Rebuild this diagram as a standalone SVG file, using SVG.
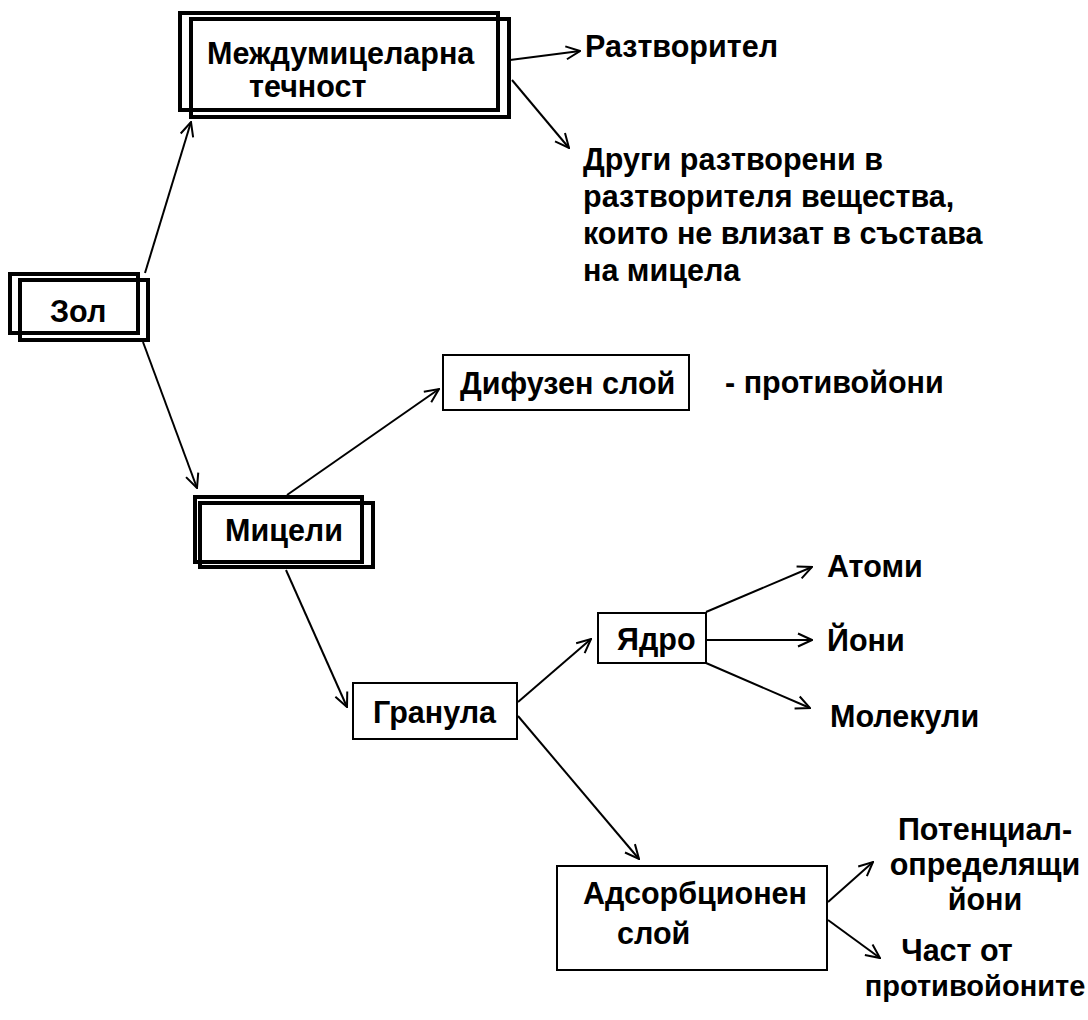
<svg xmlns="http://www.w3.org/2000/svg" width="1088" height="1020" viewBox="0 0 1088 1020">
<defs>
<style>
text{font-family:"Liberation Sans",Arial,sans-serif;font-weight:bold;font-size:30.5px;fill:#000}
.dbl{fill:none;stroke:#000;stroke-width:4}
.box{fill:#fff;stroke:#000;stroke-width:2}
.con line{stroke:#000;stroke-width:2;marker-end:url(#arr)}
</style>
<marker id="arr" viewBox="0 0 16 16" refX="15" refY="8" markerWidth="16" markerHeight="16" markerUnits="userSpaceOnUse" orient="auto">
<path d="M1,1.5 L15,8 L1,14.5" fill="none" stroke="#000" stroke-width="2"/>
</marker>
</defs>
<rect width="1088" height="1020" fill="#fff"/>
<g class="con">
<line x1="145" y1="273" x2="191" y2="122"/>
<line x1="143" y1="342" x2="197" y2="488"/>
<line x1="510" y1="60" x2="580" y2="51"/>
<line x1="512" y1="80" x2="569" y2="148"/>
<line x1="287" y1="495" x2="439" y2="389"/>
<line x1="286" y1="570" x2="347" y2="707"/>
<line x1="518" y1="702" x2="591" y2="639"/>
<line x1="518" y1="716" x2="639" y2="859"/>
<line x1="706" y1="612" x2="812" y2="567"/>
<line x1="706" y1="640" x2="812" y2="640"/>
<line x1="706" y1="663" x2="810" y2="708"/>
<line x1="828" y1="902" x2="873" y2="862"/>
<line x1="828" y1="920" x2="880" y2="958"/>
</g>
<g id="node-mezhdu">
<rect class="dbl" x="180" y="13" width="318" height="97"/>
<rect class="dbl" x="191" y="19" width="318" height="98"/>
<text x="207" y="64">Междумицеларна</text>
<text x="249" y="97">течност</text>
</g>
<g id="node-razt"><text x="585" y="57">Разтворител</text></g>
<g id="node-drugi">
<text x="583" y="170">Други разтворени в</text>
<text x="583" y="207">разтворителя вещества,</text>
<text x="583" y="244">които не влизат в състава</text>
<text x="583" y="281">на мицела</text>
</g>
<g id="node-zol">
<rect class="dbl" x="10" y="274" width="128" height="59"/>
<rect class="dbl" x="20" y="280" width="128" height="60"/>
<text x="50" y="322">Зол</text>
</g>
<g id="node-micheli">
<rect class="dbl" x="195" y="497" width="167" height="65"/>
<rect class="dbl" x="200" y="503" width="173" height="64"/>
<text x="225" y="541">Мицели</text>
</g>
<g id="node-difuzen">
<rect class="box" x="443" y="355" width="246" height="55"/>
<text x="460" y="394">Дифузен слой</text>
</g>
<g id="node-protivo"><text x="725" y="393">- противойони</text></g>
<g id="node-granula">
<rect class="box" x="353" y="683" width="164" height="56"/>
<text x="373" y="723">Гранула</text>
</g>
<g id="node-yadro">
<rect class="box" x="598" y="613" width="108" height="50"/>
<text x="617" y="650">Ядро</text>
</g>
<g id="node-atomi"><text x="827" y="577">Атоми</text></g>
<g id="node-yoni"><text x="827" y="651">Йони</text></g>
<g id="node-molekuli"><text x="830" y="727">Молекули</text></g>
<g id="node-adsorb">
<rect class="box" x="557" y="866" width="270" height="104"/>
<text x="583" y="904">Адсорбционен</text>
<text x="617" y="944">слой</text>
</g>
<g id="node-potencial">
<text x="985" y="840" text-anchor="middle">Потенциал-</text>
<text x="985" y="875" text-anchor="middle">определящи</text>
<text x="985" y="910" text-anchor="middle">йони</text>
</g>
<g id="node-chast">
<text x="957" y="961" text-anchor="middle">Част от</text>
<text x="975" y="996" text-anchor="middle" style="font-size:29px">противойоните</text>
</g>
</svg>
